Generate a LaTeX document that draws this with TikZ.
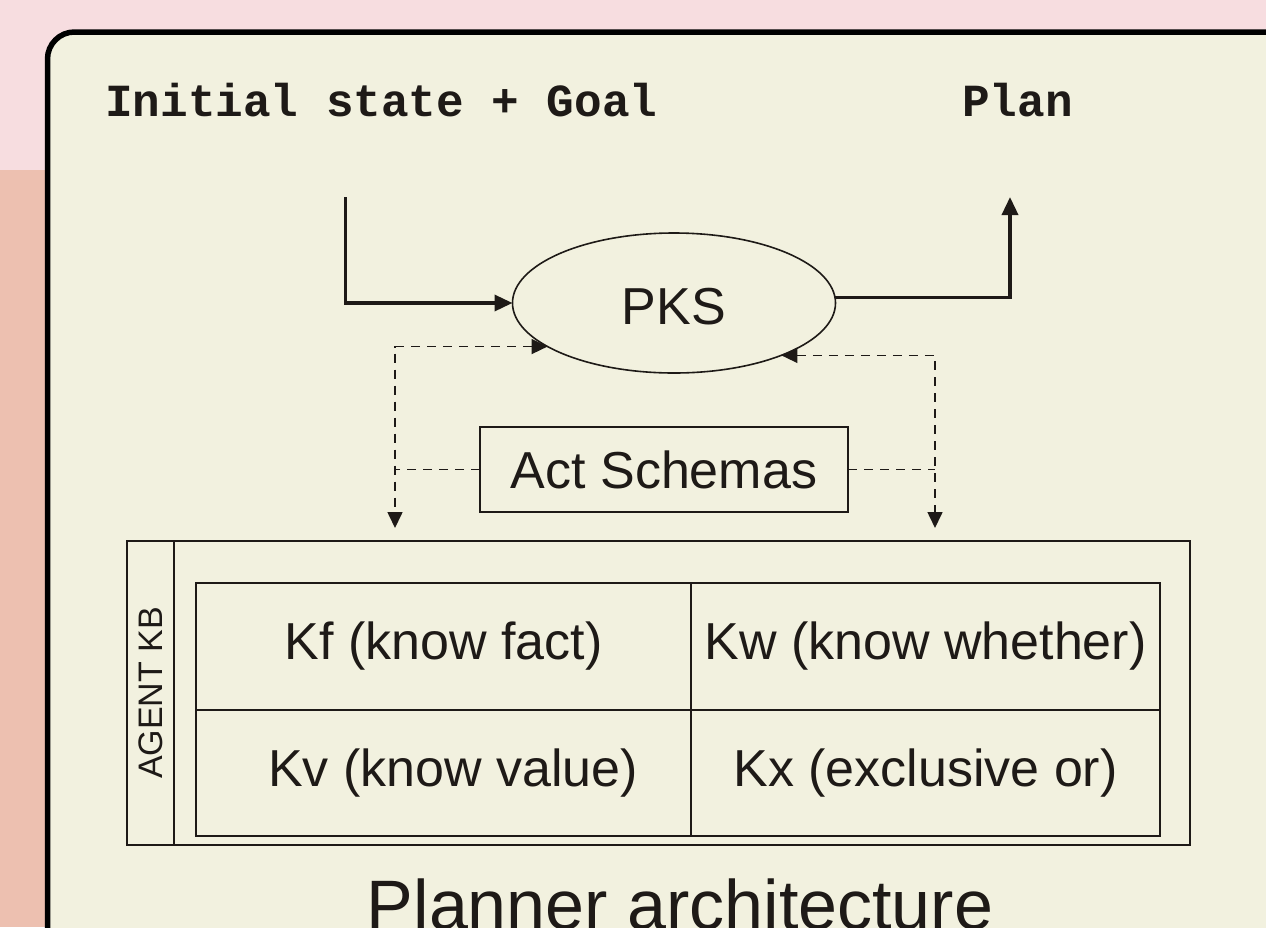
\documentclass[tikz,border=0pt]{standalone}
\usepackage{fontspec}
\setmainfont{Liberation Sans}
\newfontfamily\monofont{Liberation Mono}
\usetikzlibrary{arrows.meta,shapes.geometric,calc}
\definecolor{pinkbg}{HTML}{F7DDE0}
\definecolor{salmon}{HTML}{EDC0B0}
\definecolor{panel}{HTML}{F2F1DF}
\definecolor{ink}{HTML}{1E1A17}
\begin{document}
\begin{tikzpicture}[x=1pt,y=-1pt,
  every node/.style={text=ink},
  solidarrow/.style={draw=ink, line width=3.5pt, -{Triangle[length=18pt,width=16pt]}},
  dasharrow/.style={draw=ink, line width=1.6pt, dash pattern=on 9pt off 7pt, {Triangle[length=16pt,width=15pt]}-{Triangle[length=16pt,width=15pt]}},
  dashline/.style={draw=ink, line width=1.6pt, dash pattern=on 9pt off 7pt},
  bigtext/.style={font=\fontsize{52}{60}\selectfont},
  cell/.style={draw=ink, line width=2.5pt, inner sep=0pt, outer sep=0pt, bigtext},
  mono/.style={font=\monofont\bfseries\fontsize{46}{50}\selectfont, anchor=base west, inner sep=0pt}
]
\useasboundingbox (0,0) rectangle (1266,927);
\clip (0,0) rectangle (1266,927);
% backgrounds
\fill[pinkbg] (0,0) rectangle (1266,927);
\fill[salmon] (0,170) rectangle (60,927);
\filldraw[fill=panel, draw=black, line width=5.5pt, rounded corners=27pt] (47.5,32) rectangle (1330,990);

% headings
\node[mono] (inp) at (105,116) {Initial state + Goal};
\node[mono] (plan) at (962,116) {Plan};

% PKS
\node[ellipse, draw=ink, line width=1.6pt, minimum width=323pt, minimum height=140pt, inner sep=0pt, outer sep=0pt, bigtext] (pks) at (674,303) {\rule{0pt}{43pt}PKS};

\coordinate (in1) at (345.5,197);
\coordinate (out1) at (1010,197);
\draw[solidarrow] (in1) |- (pks.west);
\draw[solidarrow] (pks.2) -| (out1);

% Act schemas
\node[draw=ink, line width=1.6pt, minimum width=368pt, minimum height=85pt, inner sep=0pt, outer sep=0pt, bigtext] (act) at (664,469.5) {Act Schemas};

\coordinate (dl) at (395,528);
\coordinate (dr) at (935,528);
\draw[dasharrow] (pks.199) -| (dl);
\draw[dasharrow] (pks.-26) -| (dr);
\draw[dashline] (act.west) -- (act.west -| dl);
\draw[dashline] (act.east) -- (act.east -| dr);

% Agent KB
\node[draw=ink, line width=1.6pt, minimum width=1063pt, minimum height=304pt, inner sep=0pt, outer sep=0pt] (kb) at (658.5,693) {};
\node[draw=ink, line width=1.6pt, rotate=90, minimum width=304pt, minimum height=47pt, inner sep=0pt, outer sep=0pt, font=\fontsize{34}{40}\selectfont] (agent) at (150.5,693) {AGENT KB};

\node[cell, minimum width=495pt, minimum height=127pt] (kf) at (443.5,646.5) {Kf (know fact)};
\node[cell, minimum width=469pt, minimum height=127pt] (kw) at (925.5,646.5) {Kw (know whether)};
\node[cell, minimum width=495pt, minimum height=126pt] (kv) at (443.5,773) {\hspace*{19pt}Kv (know value)};
\node[cell, minimum width=469pt, minimum height=126pt] (kx) at (925.5,773) {Kx (exclusive or)};

% title
\node[font=\fontsize{70}{80}\selectfont, anchor=base, inner sep=0pt] (title) at (680,929) {Planner architecture};
\end{tikzpicture}
\end{document}
